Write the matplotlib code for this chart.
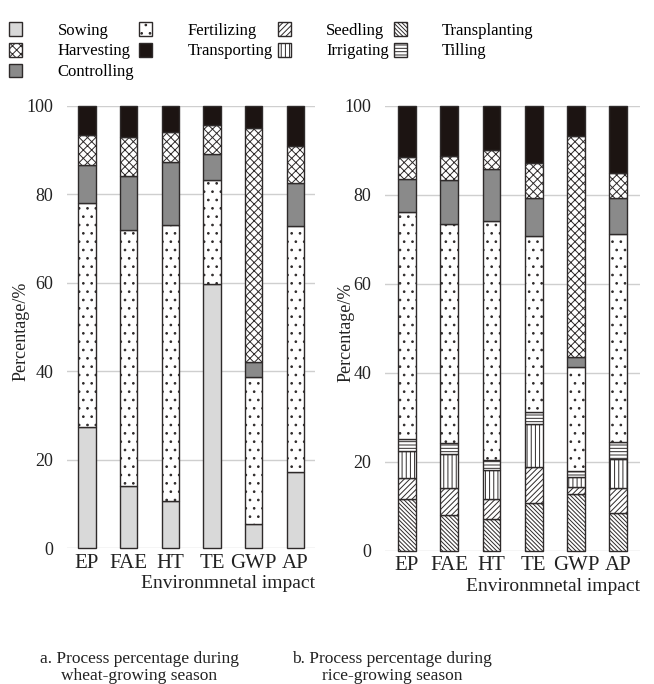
import matplotlib
matplotlib.use('Agg')
import matplotlib.pyplot as plt
import numpy as np

plt.rcParams['font.family'] = ['Liberation Serif', 'DejaVu Serif']
plt.rcParams['hatch.linewidth'] = 0.7

impacts = ['EP', 'FAE', 'HT', 'TE', 'GWP', 'AP']

# wheat season, stacked from bottom
wheat_sowing = [27.4, 14.1, 10.7, 59.8, 5.5, 17.2]
wheat_fertilizing = [50.6, 57.8, 62.3, 23.5, 33.1, 55.6]
wheat_controlling = [8.6, 12.2, 14.4, 5.9, 3.6, 9.7]
wheat_harvesting = [6.9, 8.8, 6.6, 6.5, 52.8, 8.5]
wheat_transporting = [6.5, 7.1, 6.0, 4.3, 5.0, 9.0]

# rice season, stacked from bottom
rice_transplanting = [11.5, 8.1, 7.2, 10.7, 12.7, 8.4]
rice_seedling = [4.9, 5.9, 4.5, 8.1, 1.6, 5.7]
rice_irrigating = [6.0, 7.6, 6.5, 9.7, 2.3, 6.4]
rice_tilling = [2.7, 2.6, 2.2, 2.6, 1.4, 4.0]
rice_fertilizing = [51.1, 49.3, 53.6, 39.7, 23.2, 46.6]
rice_controlling = [7.3, 9.8, 11.7, 8.5, 2.2, 8.1]
rice_harvesting = [4.9, 5.4, 4.3, 7.9, 49.8, 5.6]
rice_transporting = [11.6, 11.3, 10.0, 12.8, 6.8, 15.2]

styles = {
    'Sowing': dict(color='#d9d9d9', hatch=None),
    'Fertilizing': dict(color='white', hatch='..'),
    'Controlling': dict(color='#8a8a8a', hatch=None),
    'Harvesting': dict(color='white', hatch='xxxx'),
    'Transporting': dict(color='#1c1412', hatch=None),
    'Transplanting': dict(color='white', hatch='\\' * 8),
    'Seedling': dict(color='white', hatch='//////'),
    'Irrigating': dict(color='white', hatch='||||'),
    'Tilling': dict(color='white', hatch='-----'),
}

fig = plt.figure(figsize=(6.54, 6.84), dpi=100)
ax1 = fig.add_axes([0.1024, 0.1984, 0.379, 0.647])
ax2 = fig.add_axes([0.5887, 0.195, 0.39, 0.6506])

handles = {}


def stack(ax, series):
    x = np.arange(len(impacts))
    bottom = np.zeros(len(impacts))
    for name, vals in series:
        st = styles[name]
        b = ax.bar(x, vals, 0.42, bottom=bottom, color=st['color'], hatch=st['hatch'],
                   edgecolor='#2e2a2a', linewidth=1.0, zorder=3, clip_on=False, label=name)
        handles[name] = b
        bottom += np.array(vals)


stack(ax1, [('Sowing', wheat_sowing), ('Fertilizing', wheat_fertilizing),
            ('Controlling', wheat_controlling), ('Harvesting', wheat_harvesting),
            ('Transporting', wheat_transporting)])
stack(ax2, [('Transplanting', rice_transplanting), ('Seedling', rice_seedling),
            ('Irrigating', rice_irrigating), ('Tilling', rice_tilling),
            ('Fertilizing', rice_fertilizing), ('Controlling', rice_controlling),
            ('Harvesting', rice_harvesting), ('Transporting', rice_transporting)])

for ax, xl in [(ax1, (-0.48, 5.47)), (ax2, (-0.52, 5.52))]:
    ax.set_xlim(*xl)
    ax.set_ylim(0, 100)
    ax.set_yticks([0, 20, 40, 60, 80, 100])
    ax.set_xticks(np.arange(len(impacts)))
    ax.set_xticklabels(impacts)
    ax.tick_params(length=0, colors='#222222')
    ax.tick_params(axis='y', pad=10, labelsize=13)
    ax.tick_params(axis='x', pad=4, labelsize=15)
    for s in ax.spines.values():
        s.set_visible(False)
    ax.grid(axis='y', color='#cfcfcf', linewidth=1.0, zorder=0)
    ax.set_ylabel('Percentage/%', fontsize=13, color='#222222')
    ax.text(1.0, -0.08, 'Environmnetal impact', transform=ax.transAxes,
            ha='right', va='center', fontsize=14, color='#222222')

ax1.yaxis.set_label_coords(-0.153, 0.49)
ax2.yaxis.set_label_coords(-0.12, 0.49)

order = ['Sowing', 'Harvesting', 'Controlling', 'Fertilizing', 'Transporting',
         'Seedling', 'Irrigating', 'Transplanting', 'Tilling']
fig.legend([handles[n] for n in order], order, loc='upper left',
           bbox_to_anchor=(0.014, 0.968), ncol=4, frameon=False, fontsize=12,
           handlelength=0.8, handleheight=0.9, handletextpad=2.1,
           columnspacing=0.3, labelspacing=0.25, borderpad=0, borderaxespad=0)

fig.text(0.213, 0.024, 'a. Process percentage during\nwheat-growing season',
         ha='center', va='center', fontsize=12.5, linespacing=1.1, color='#222222')
fig.text(0.6, 0.024, 'b. Process percentage during\nrice-growing season',
         ha='center', va='center', fontsize=12.5, linespacing=1.1, color='#222222')

fig.savefig('out.png', dpi=100)
